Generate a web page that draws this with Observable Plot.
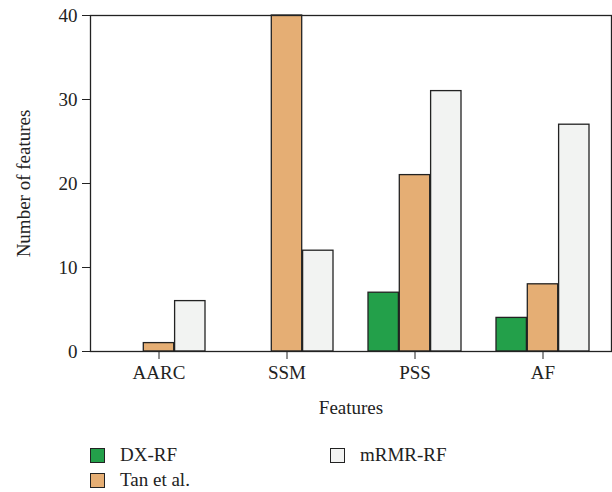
<!DOCTYPE html>
<html><head><meta charset="utf-8">
<script src="https://cdn.jsdelivr.net/npm/d3@7"></script>
<script src="https://cdn.jsdelivr.net/npm/@observablehq/plot@0.6"></script>
<style>
body{margin:0;background:#fff;font-family:"Liberation Serif",serif;}
#wrap{position:relative;width:612px;height:492px;}
.leg{position:absolute;display:flex;align-items:center;font-size:19px;color:#222;}
.sw{width:15px;height:15px;border:1.3px solid #222;box-sizing:border-box;margin-right:15px;}
</style></head>
<body><div id="wrap"></div>
<script>
const categories = ["AARC", "SSM", "PSS", "AF"];
const series = ["DX-RF", "Tan et al.", "mRMR-RF"];
const dxrf = [0, 0, 7, 4];
const tanEtAl = [1, 40, 21, 8];
const mrmrRf = [6, 12, 31, 27];
const yTicks = [0, 10, 20, 30, 40];
const colors = ["#23a04a", "#e5ae74", "#f2f3f2"];

const values = [dxrf, tanEtAl, mrmrRf];
const data = [];
series.forEach((s, si) => categories.forEach((c, ci) => data.push({category: c, series: s, si, value: values[si][ci]})));

const W = 612, H = 430, mL = 90, mR = 1, mT = 15, mB = 79;
const xOpts = {type: "band", domain: categories, range: [mL, W - mR], paddingInner: 0.27, paddingOuter: 0.16};
const bw = Plot.scale({x: xOpts}).bandwidth;
const part = bw / 3;

const barMarks = series.map((s, si) => Plot.barY(data.filter(d => d.si === si), {
  x: "category", y: "value", fill: colors[si], stroke: "#222", strokeWidth: 1.3,
  insetLeft: si * part, insetRight: (2 - si) * part
}));

const chart = Plot.plot({
  width: W, height: H, marginLeft: mL, marginRight: mR, marginTop: mT, marginBottom: mB,
  style: {fontFamily: "Liberation Serif", fontSize: "19px", color: "#222", background: "#fff"},
  x: {domain: categories, paddingInner: 0.27, paddingOuter: 0.16},
  y: {domain: [0, 40]},
  marks: [
    ...barMarks,
    Plot.frame({stroke: "#222", strokeWidth: 1.3}),
    Plot.axisY({ticks: yTicks, tickSize: 8, tickPadding: 5, label: "Number of features", labelAnchor: "center", labelOffset: 74, labelArrow: "none"}),
    Plot.axisX({tickSize: 8, tickPadding: 6, label: "Features", labelAnchor: "center", labelOffset: 62, labelArrow: "none"})
  ]
});
const wrap = document.getElementById("wrap");
wrap.appendChild(chart);

const legPos = [[90, 444], [90, 469], [330, 444]];
series.forEach((s, si) => {
  const d = document.createElement("div");
  d.className = "leg";
  d.style.left = legPos[si][0] + "px";
  d.style.top = legPos[si][1] + "px";
  d.innerHTML = `<div class="sw" style="background:${colors[si]}"></div><span>${s}</span>`;
  wrap.appendChild(d);
});
</script></body></html>
